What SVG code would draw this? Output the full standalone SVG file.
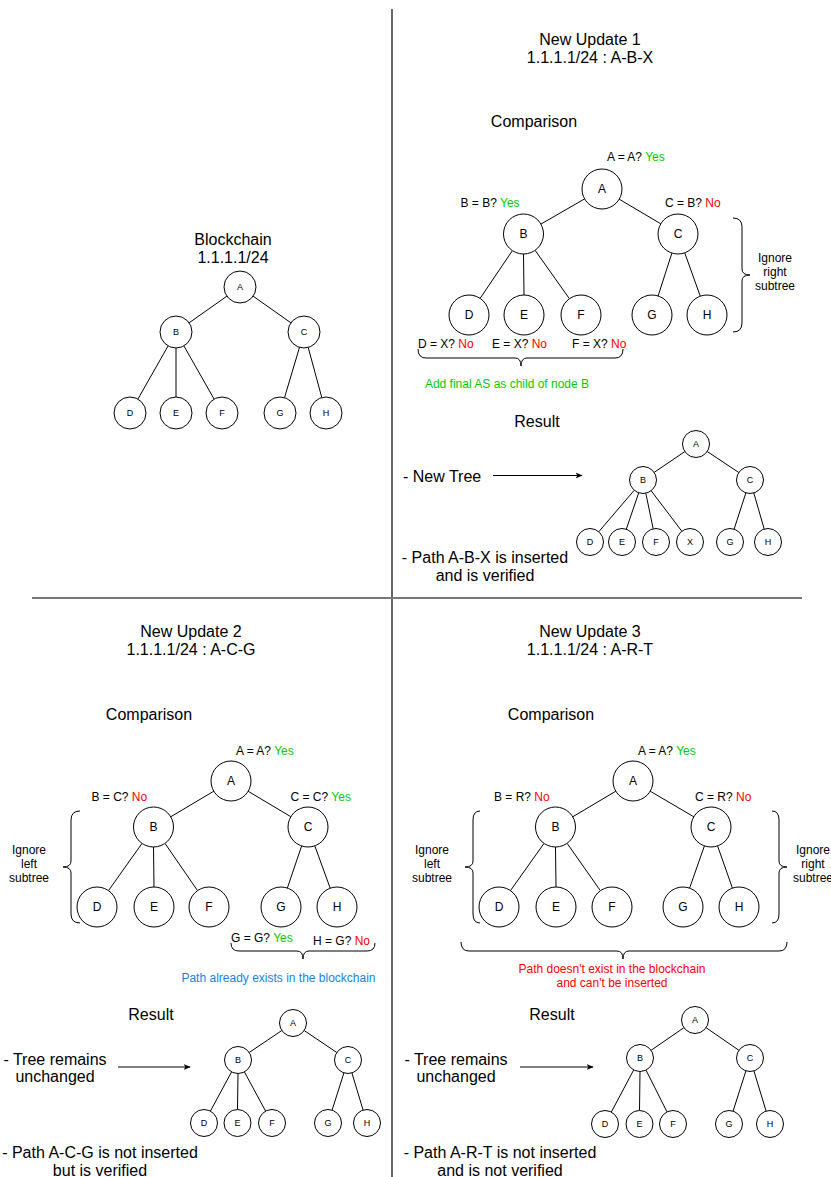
<svg xmlns="http://www.w3.org/2000/svg" width="831" height="1177" viewBox="0 0 831 1177">
<defs>
<marker id="ah" viewBox="0 0 10 10" refX="9" refY="5" markerWidth="7" markerHeight="7" orient="auto" markerUnits="userSpaceOnUse">
<path d="M0,1 L10,5 L0,9 L2.5,5 Z" fill="#000"/>
</marker>
</defs>
<style>
text{font-family:"Liberation Sans",Arial,Helvetica,sans-serif;fill:#000}
.n circle{fill:#fff;stroke:#000;stroke-width:1}
.big text{font-size:12px;text-anchor:middle}
.sm text{font-size:9px;text-anchor:middle}
.t16{font-size:16px}
.mid{text-anchor:middle}
.lbl{font-size:12px}
.yes{fill:#00CC00}
.no{fill:#FF0000}
.edge line{stroke:#000;stroke-width:1}
.brace{fill:none;stroke:#000;stroke-width:1}
</style>
<rect x="0" y="0" width="831" height="1177" fill="#fff"/>
<g id="dividers">
<line x1="392" y1="9" x2="392" y2="1177" stroke="#000" stroke-width="1.2"/>
<line x1="32" y1="598" x2="802" y2="598" stroke="#777" stroke-width="2"/>
</g>
<g id="titles">
<text class="t16 mid" x="233" y="245">Blockchain</text>
<text class="t16 mid" x="233" y="263">1.1.1.1/24</text>
<text class="t16 mid" x="590" y="45">New Update 1</text>
<text class="t16 mid" x="590" y="63">1.1.1.1/24 : A-B-X</text>
<text class="t16 mid" x="534" y="127">Comparison</text>
<text class="t16 mid" x="537" y="427">Result</text>
<text class="t16 mid" x="191" y="637">New Update 2</text>
<text class="t16 mid" x="191" y="655">1.1.1.1/24 : A-C-G</text>
<text class="t16 mid" x="149" y="720">Comparison</text>
<text class="t16 mid" x="151" y="1020">Result</text>
<text class="t16 mid" x="590" y="637">New Update 3</text>
<text class="t16 mid" x="590" y="655">1.1.1.1/24 : A-R-T</text>
<text class="t16 mid" x="551" y="720">Comparison</text>
<text class="t16 mid" x="552" y="1020">Result</text>
</g>
<g id="connectors" class="edge">
<line x1="226.9" y1="296.2" x2="189.1" y2="322.8"/>
<line x1="253.1" y1="296.2" x2="290.9" y2="322.8"/>
<line x1="168.1" y1="345.9" x2="137.9" y2="399.1"/>
<line x1="176" y1="348" x2="176" y2="397"/>
<line x1="183.9" y1="345.9" x2="214.1" y2="399.1"/>
<line x1="299.5" y1="347.3" x2="284.5" y2="397.7"/>
<line x1="308.2" y1="347.4" x2="321.8" y2="397.6"/>
<line x1="584.6" y1="198.9" x2="540.9" y2="224.1"/>
<line x1="619.2" y1="199.2" x2="660.8" y2="223.8"/>
<line x1="512.4" y1="250.6" x2="480.1" y2="298.4"/>
<line x1="523.5" y1="254" x2="524" y2="295"/>
<line x1="535.1" y1="250.3" x2="569.4" y2="298.7"/>
<line x1="671.9" y1="253" x2="658.1" y2="296"/>
<line x1="684.7" y1="252.8" x2="700.3" y2="296.2"/>
<line x1="684.8" y1="451.6" x2="654.2" y2="472.4"/>
<line x1="707.2" y1="451.5" x2="738.8" y2="472.5"/>
<line x1="634.2" y1="490.3" x2="598.8" y2="531.7"/>
<line x1="638.7" y1="492.8" x2="626.3" y2="529.2"/>
<line x1="645.8" y1="493.2" x2="653.2" y2="528.8"/>
<line x1="651.2" y1="490.8" x2="681.8" y2="531.2"/>
<line x1="745.9" y1="492.8" x2="734.1" y2="529.2"/>
<line x1="753.8" y1="493" x2="764.2" y2="529"/>
<line x1="213.8" y1="791.2" x2="170.7" y2="816.8"/>
<line x1="248.2" y1="791.3" x2="290.8" y2="816.7"/>
<line x1="142" y1="843.4" x2="108.5" y2="890.6"/>
<line x1="153.5" y1="847" x2="154" y2="887"/>
<line x1="165" y1="843.4" x2="197.5" y2="890.6"/>
<line x1="301.6" y1="846" x2="287.4" y2="888"/>
<line x1="314.8" y1="845.8" x2="330.2" y2="888.2"/>
<line x1="281.8" y1="1030.5" x2="249.2" y2="1052.5"/>
<line x1="304.2" y1="1030.5" x2="336.8" y2="1052.5"/>
<line x1="231.6" y1="1071.9" x2="210.4" y2="1111.1"/>
<line x1="238" y1="1073.5" x2="237.5" y2="1109.5"/>
<line x1="244.4" y1="1071.9" x2="265.6" y2="1111.1"/>
<line x1="343.9" y1="1072.9" x2="332.1" y2="1110.1"/>
<line x1="351.9" y1="1072.9" x2="363.1" y2="1110.1"/>
<line x1="615.8" y1="791.2" x2="572.7" y2="816.8"/>
<line x1="650.2" y1="791.2" x2="693.8" y2="816.8"/>
<line x1="544" y1="843.4" x2="510.5" y2="890.6"/>
<line x1="555.5" y1="847" x2="556" y2="887"/>
<line x1="567.1" y1="843.3" x2="600.4" y2="890.7"/>
<line x1="704.4" y1="845.9" x2="689.6" y2="888.1"/>
<line x1="717.6" y1="845.9" x2="732.4" y2="888.1"/>
<line x1="683.9" y1="1027.7" x2="651.1" y2="1050.3"/>
<line x1="706.1" y1="1027.7" x2="738.9" y2="1050.3"/>
<line x1="633.7" y1="1069.9" x2="611.3" y2="1112.1"/>
<line x1="640" y1="1071.5" x2="639.5" y2="1110.5"/>
<line x1="646" y1="1070.1" x2="667" y2="1111.9"/>
<line x1="745.9" y1="1070.9" x2="733.1" y2="1111.1"/>
<line x1="753.9" y1="1070.9" x2="766.1" y2="1111.1"/>
<line x1="493" y1="475.5" x2="582" y2="475.5" marker-end="url(#ah)"/>
<line x1="118" y1="1067" x2="190" y2="1067" marker-end="url(#ah)"/>
<line x1="520" y1="1067" x2="593" y2="1067" marker-end="url(#ah)"/>
</g>
<g id="braces">
<path class="brace" d="M418,349 Q418,358 426,358 L515,358 Q521,358 521,366 Q521,358 527,358 L615,358 Q623,358 623,349"/>
<path class="brace" d="M733,218 Q742,218 742,227 L742,269 Q742,275 750,275 Q742,275 742,281 L742,323 Q742,332 733,332"/>
<path class="brace" d="M80,811 Q71,811 71,820 L71,861 Q71,867 63,867 Q71,867 71,873 L71,914 Q71,923 80,923"/>
<path class="brace" d="M231,943 Q231,951 239,951 L297,951 Q303,951 303,959 Q303,951 309,951 L367,951 Q375,951 375,943"/>
<path class="brace" d="M480,811 Q473,811 473,820 L473,861 Q473,867 465,867 Q473,867 473,873 L473,914 Q473,923 480,923"/>
<path class="brace" d="M772,811 Q779,811 779,820 L779,861 Q779,867 787,867 Q779,867 779,873 L779,914 Q779,923 772,923"/>
<path class="brace" d="M461,942 Q461,951 469,951 L617,951 Q623,951 623,959 Q623,951 629,951 L779,951 Q787,951 787,942"/>
</g>
<g id="tree1" class="n sm">
<g id="t1-A"><circle cx="240" cy="287" r="16"/><text x="240" y="290.2">A</text></g>
<g id="t1-B"><circle cx="176" cy="332" r="16"/><text x="176" y="335.2">B</text></g>
<g id="t1-C"><circle cx="304" cy="332" r="16"/><text x="304" y="335.2">C</text></g>
<g id="t1-D"><circle cx="130" cy="413" r="16"/><text x="130" y="416.2">D</text></g>
<g id="t1-E"><circle cx="176" cy="413" r="16"/><text x="176" y="416.2">E</text></g>
<g id="t1-F"><circle cx="222" cy="413" r="16"/><text x="222" y="416.2">F</text></g>
<g id="t1-G"><circle cx="280" cy="413" r="16"/><text x="280" y="416.2">G</text></g>
<g id="t1-H"><circle cx="326" cy="413" r="16"/><text x="326" y="416.2">H</text></g>
</g>
<g id="tree2" class="n big">
<g id="t2-A"><circle cx="602" cy="189" r="20"/><text x="602" y="193.3">A</text></g>
<g id="t2-B"><circle cx="523.5" cy="234" r="20"/><text x="523.5" y="238.3">B</text></g>
<g id="t2-C"><circle cx="678" cy="234" r="20"/><text x="678" y="238.3">C</text></g>
<g id="t2-D"><circle cx="469" cy="315" r="20"/><text x="469" y="319.3">D</text></g>
<g id="t2-E"><circle cx="524" cy="315" r="20"/><text x="524" y="319.3">E</text></g>
<g id="t2-F"><circle cx="581" cy="315" r="20"/><text x="581" y="319.3">F</text></g>
<g id="t2-G"><circle cx="652" cy="315" r="20"/><text x="652" y="319.3">G</text></g>
<g id="t2-H"><circle cx="707" cy="315" r="20"/><text x="707" y="319.3">H</text></g>
</g>
<g id="tree3" class="n sm">
<g id="t3-A"><circle cx="696" cy="444" r="13.5"/><text x="696" y="447.2">A</text></g>
<g id="t3-B"><circle cx="643" cy="480" r="13.5"/><text x="643" y="483.2">B</text></g>
<g id="t3-C"><circle cx="750" cy="480" r="13.5"/><text x="750" y="483.2">C</text></g>
<g id="t3-D"><circle cx="590" cy="542" r="13.5"/><text x="590" y="545.2">D</text></g>
<g id="t3-E"><circle cx="622" cy="542" r="13.5"/><text x="622" y="545.2">E</text></g>
<g id="t3-F"><circle cx="656" cy="542" r="13.5"/><text x="656" y="545.2">F</text></g>
<g id="t3-X"><circle cx="690" cy="542" r="13.5"/><text x="690" y="545.2">X</text></g>
<g id="t3-G"><circle cx="730" cy="542" r="13.5"/><text x="730" y="545.2">G</text></g>
<g id="t3-H"><circle cx="768" cy="542" r="13.5"/><text x="768" y="545.2">H</text></g>
</g>
<g id="tree4" class="n big">
<g id="t4-A"><circle cx="231" cy="781" r="20"/><text x="231" y="785.3">A</text></g>
<g id="t4-B"><circle cx="153.5" cy="827" r="20"/><text x="153.5" y="831.3">B</text></g>
<g id="t4-C"><circle cx="308" cy="827" r="20"/><text x="308" y="831.3">C</text></g>
<g id="t4-D"><circle cx="97" cy="907" r="20"/><text x="97" y="911.3">D</text></g>
<g id="t4-E"><circle cx="154" cy="907" r="20"/><text x="154" y="911.3">E</text></g>
<g id="t4-F"><circle cx="209" cy="907" r="20"/><text x="209" y="911.3">F</text></g>
<g id="t4-G"><circle cx="281" cy="907" r="20"/><text x="281" y="911.3">G</text></g>
<g id="t4-H"><circle cx="337" cy="907" r="20"/><text x="337" y="911.3">H</text></g>
</g>
<g id="tree5" class="n sm">
<g id="t5-A"><circle cx="293" cy="1023" r="13.5"/><text x="293" y="1026.2">A</text></g>
<g id="t5-B"><circle cx="238" cy="1060" r="13.5"/><text x="238" y="1063.2">B</text></g>
<g id="t5-C"><circle cx="348" cy="1060" r="13.5"/><text x="348" y="1063.2">C</text></g>
<g id="t5-D"><circle cx="204" cy="1123" r="13.5"/><text x="204" y="1126.2">D</text></g>
<g id="t5-E"><circle cx="237.5" cy="1123" r="13.5"/><text x="237.5" y="1126.2">E</text></g>
<g id="t5-F"><circle cx="272" cy="1123" r="13.5"/><text x="272" y="1126.2">F</text></g>
<g id="t5-G"><circle cx="328" cy="1123" r="13.5"/><text x="328" y="1126.2">G</text></g>
<g id="t5-H"><circle cx="367" cy="1123" r="13.5"/><text x="367" y="1126.2">H</text></g>
</g>
<g id="tree6" class="n big">
<g id="t6-A"><circle cx="633" cy="781" r="20"/><text x="633" y="785.3">A</text></g>
<g id="t6-B"><circle cx="555.5" cy="827" r="20"/><text x="555.5" y="831.3">B</text></g>
<g id="t6-C"><circle cx="711" cy="827" r="20"/><text x="711" y="831.3">C</text></g>
<g id="t6-D"><circle cx="499" cy="907" r="20"/><text x="499" y="911.3">D</text></g>
<g id="t6-E"><circle cx="556" cy="907" r="20"/><text x="556" y="911.3">E</text></g>
<g id="t6-F"><circle cx="612" cy="907" r="20"/><text x="612" y="911.3">F</text></g>
<g id="t6-G"><circle cx="683" cy="907" r="20"/><text x="683" y="911.3">G</text></g>
<g id="t6-H"><circle cx="739" cy="907" r="20"/><text x="739" y="911.3">H</text></g>
</g>
<g id="tree7" class="n sm">
<g id="t7-A"><circle cx="695" cy="1020" r="13.5"/><text x="695" y="1023.2">A</text></g>
<g id="t7-B"><circle cx="640" cy="1058" r="13.5"/><text x="640" y="1061.2">B</text></g>
<g id="t7-C"><circle cx="750" cy="1058" r="13.5"/><text x="750" y="1061.2">C</text></g>
<g id="t7-D"><circle cx="605" cy="1124" r="13.5"/><text x="605" y="1127.2">D</text></g>
<g id="t7-E"><circle cx="639.5" cy="1124" r="13.5"/><text x="639.5" y="1127.2">E</text></g>
<g id="t7-F"><circle cx="673" cy="1124" r="13.5"/><text x="673" y="1127.2">F</text></g>
<g id="t7-G"><circle cx="729" cy="1124" r="13.5"/><text x="729" y="1127.2">G</text></g>
<g id="t7-H"><circle cx="770" cy="1124" r="13.5"/><text x="770" y="1127.2">H</text></g>
</g>
<g id="labels-u1" class="lbl">
<text class="lbl" x="607" y="161">A = A? <tspan class="yes">Yes</tspan></text>
<text class="lbl" x="460.5" y="207">B = B? <tspan class="yes">Yes</tspan></text>
<text class="lbl" x="665" y="207">C = B? <tspan class="no">No</tspan></text>
<text class="lbl" x="418" y="348">D = X? <tspan class="no">No</tspan></text>
<text class="lbl" x="492" y="348">E = X? <tspan class="no">No</tspan></text>
<text class="lbl" x="572" y="348">F = X? <tspan class="no">No</tspan></text>
<text class="lbl mid" x="775" y="262">Ignore</text>
<text class="lbl mid" x="775" y="276">right</text>
<text class="lbl mid" x="775" y="290">subtree</text>
<text class="lbl mid yes" x="507" y="388">Add final AS as child of node B</text>
</g>
<g id="labels-u2" class="lbl">
<text class="lbl" x="236" y="754.5">A = A? <tspan class="yes">Yes</tspan></text>
<text class="lbl" x="91.5" y="800.5">B = C? <tspan class="no">No</tspan></text>
<text class="lbl" x="290.5" y="800.5">C = C? <tspan class="yes">Yes</tspan></text>
<text class="lbl mid" x="29" y="854">Ignore</text>
<text class="lbl mid" x="29" y="868">left</text>
<text class="lbl mid" x="29" y="882">subtree</text>
<text class="lbl" x="231" y="941.5">G = G? <tspan class="yes">Yes</tspan></text>
<text class="lbl" x="313" y="944.5">H = G? <tspan class="no">No</tspan></text>
<text class="lbl mid" x="278.5" y="981.5" style="fill:#1A7FE0">Path already exists in the blockchain</text>
</g>
<g id="labels-u3" class="lbl">
<text class="lbl" x="638" y="754.5">A = A? <tspan class="yes">Yes</tspan></text>
<text class="lbl" x="494" y="800.5">B = R? <tspan class="no">No</tspan></text>
<text class="lbl" x="695" y="800.5">C = R? <tspan class="no">No</tspan></text>
<text class="lbl mid" x="432" y="854">Ignore</text>
<text class="lbl mid" x="432" y="868">left</text>
<text class="lbl mid" x="432" y="882">subtree</text>
<text class="lbl mid" x="813" y="854">Ignore</text>
<text class="lbl mid" x="813" y="868">right</text>
<text class="lbl mid" x="813" y="882">subtree</text>
<text class="lbl mid no" x="612" y="973">Path doesn't exist in the blockchain</text>
<text class="lbl mid no" x="612" y="987">and can't be inserted</text>
</g>
<g id="notes">
<text class="t16" x="403" y="481.5">- New Tree</text>
<text class="t16 mid" x="485" y="563">- Path A-B-X is inserted</text>
<text class="t16 mid" x="485" y="581">and is verified</text>
<text class="t16 mid" x="55" y="1065">- Tree remains</text>
<text class="t16 mid" x="55" y="1082">unchanged</text>
<text class="t16 mid" x="100" y="1158">- Path A-C-G is not inserted</text>
<text class="t16 mid" x="100" y="1176">but is verified</text>
<text class="t16 mid" x="456" y="1065">- Tree remains</text>
<text class="t16 mid" x="456" y="1082">unchanged</text>
<text class="t16 mid" x="500" y="1158">- Path A-R-T is not inserted</text>
<text class="t16 mid" x="500" y="1176">and is not verified</text>
</g>
</svg>
